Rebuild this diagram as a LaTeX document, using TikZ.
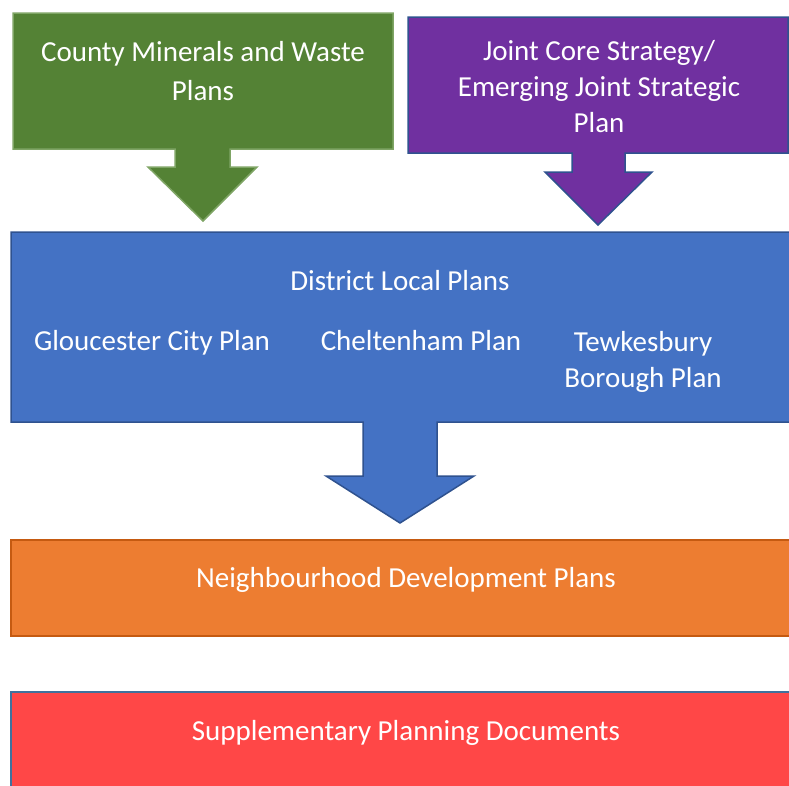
\documentclass[tikz,border=0pt]{standalone}
\usepackage{fontspec}
\setmainfont{Carlito}
\definecolor{cgreen}{HTML}{548235}
\definecolor{cgreenb}{HTML}{7FA565}
\definecolor{cpurple}{HTML}{7030A0}
\definecolor{cblue}{HTML}{4472C4}
\definecolor{cblueb}{HTML}{2F528F}
\definecolor{corange}{HTML}{ED7D31}
\definecolor{coranb}{HTML}{C55A11}
\definecolor{cred}{HTML}{FF4747}
\definecolor{credb}{HTML}{41719C}
\begin{document}
\begin{tikzpicture}[x=1pt,y=-1pt,
  blockshape/.style={line width=1.5pt, line join=miter},
  lbl/.style={text=white, font=\fontsize{29}{36}\selectfont, align=center, inner sep=0pt}]
\useasboundingbox (0,0) rectangle (789,785);
\clip (0,0) rectangle (789,785);
% green callout
\draw[blockshape, fill=cgreen, draw=cgreenb] (13,13) -- (393,13) -- (393,149) -- (230,149) -- (230,167) -- (257,167) -- (203,221) -- (148,167) -- (175,167) -- (175,149) -- (13,149) -- cycle;
% purple callout
\draw[blockshape, fill=cpurple, draw=cblueb] (408,17) -- (788,17) -- (788,153) -- (625,153) -- (625,172) -- (652,172) -- (598,225) -- (545,172) -- (572,172) -- (572,153) -- (408,153) -- cycle;
% blue callout
\draw[blockshape, fill=cblue, draw=cblueb] (11,232) -- (800,232) -- (800,422) -- (437,422) -- (437,476) -- (474,476) -- (400,523) -- (326,476) -- (363,476) -- (363,422) -- (11,422) -- cycle;
% orange box
\draw[blockshape, fill=corange, draw=coranb] (11,540) rectangle (800,636);
% red box
\draw[blockshape, fill=cred, draw=credb] (11,692) rectangle (800,800);
% text
\node[lbl] (cmw) at (203,71) {County Minerals and Waste\\[3pt]Plans};
\node[lbl] (jcs) at (599,87) {Joint Core Strategy/\\Emerging Joint Strategic\\Plan};
\node[lbl, anchor=base] (dlp) at (400,290) {District Local Plans};
\node[lbl, anchor=base] (gcp) at (152,350.5) {Gloucester City Plan};
\node[lbl, anchor=base] (chp) at (421,350.5) {Cheltenham Plan};
\node[lbl] (tbp) at (643,362) {Tewkesbury\\Borough Plan};
\node[lbl, anchor=base] (ndp) at (406,587) {Neighbourhood Development Plans};
\node[lbl, anchor=base] (spd) at (406,740) {Supplementary Planning Documents};
\end{tikzpicture}
\end{document}
